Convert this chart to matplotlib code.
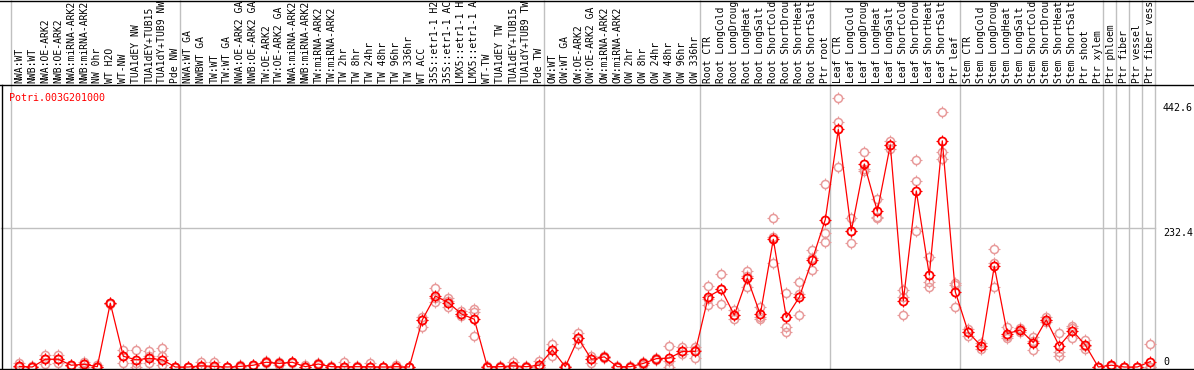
import matplotlib
matplotlib.use('Agg')
import matplotlib.pyplot as plt
from matplotlib.path import Path

# ---------------- data ----------------
gene_id = "Potri.003G201000"

labels = [
    "NWA:WT", "NWB:WT", "NWA:OE-ARK2", "NWB:OE-ARK2", "NWA:miRNA-ARK2", "NWB:miRNA-ARK2",
    "NW 0hr", "WT H2O", "WT-NW", "TUA1dEY NW", "TUA1dEY+TUB15 NW", "TUA1dY+TUB9 NW", "Pde NW",
    "NWA:WT GA", "NWBWT GA", "TW:WT", "TW:WT GA", "NWA:OE-ARK2 GA", "NWB:OE-ARK2 GA",
    "TW:OE-ARK2", "TW:OE-ARK2 GA", "NWA:miRNA-ARK2 GA", "NWB:miRNA-ARK2 GA", "TW:miRNA-ARK2",
    "TW:miRNA-ARK2", "TW 2hr", "TW 8hr", "TW 24hr", "TW 48hr", "TW 96hr", "TW 336hr", "WT ACC",
    "35S::etr1-1 H2O", "35S::etr1-1 ACC", "LMX5::etr1-1 H2O", "LMX5::etr1-1 ACC", "WT-TW",
    "TUA1dEY TW", "TUA1dEY+TUB15 TW", "TUA1dY+TUB9 TW", "Pde TW",
    "OW:WT", "OW:WT GA", "OW:OE-ARK2", "OW:OE-ARK2 GA", "OW:miRNA-ARK2", "OW:miRNA-ARK2",
    "OW 2hr", "OW 8hr", "OW 24hr", "OW 48hr", "OW 96hr", "OW 336hr",
    "Root CTR", "Root LongCold", "Root LongDrought", "Root LongHeat", "Root LongSalt",
    "Root ShortCold", "Root ShortDrought", "Root ShortHeat", "Root ShortSalt", "Ptr root",
    "Leaf CTR", "Leaf LongCold", "Leaf LongDrought", "Leaf LongHeat", "Leaf LongSalt",
    "Leaf ShortCold", "Leaf ShortDrought", "Leaf ShortHeat", "Leaf ShortSalt", "Ptr leaf",
    "Stem CTR", "Stem LongCold", "Stem LongDrought", "Stem LongHeat", "Stem LongSalt",
    "Stem ShortCold", "Stem ShortDrought", "Stem ShortHeat", "Stem ShortSalt", "Ptr shoot",
    "Ptr xylem", "Ptr phloem", "Ptr fiber", "Ptr vessel", "Ptr fiber vessel",
]

means = [
    1, 0, 13, 13, 3, 4.5, 0.5, 107, 18, 12, 14.5, 12, 0,
    0, 2, 1, 0, 1, 3, 8, 6, 8, 0.5, 5, 0.5, 0.5, 0.5, 0.5, 0, 0.5, 0,
    79, 119, 108, 89, 80, 0.5, 0.5, 2, 0.5, 3,
    28.5, 0.5, 48, 13, 17, 0.5, 0.5, 6, 14, 15, 26, 26,
    118, 130, 87, 149, 88, 214, 83, 117, 180, 247,
    398, 228, 340, 261, 372, 111, 295, 154, 379, 126,
    58, 35, 169, 56, 62, 41, 79, 35, 61, 37,
    0, 3, 0, 0, 9,
]

replicates = [
    [1, 6, 0], [0, 2, 0], [20, 13, 4.5], [20, 13, 7], [3, 4, 2], [9, 4.5, 0.5],
    [0.5, 3, 0], [106, 107, 108], [28.5, 18, 6], [28.5, 7, 0], [27, 18, 6], [31, 18, 3],
    [0, 0, 0],
    [0, 0, 0], [9, 1, 0], [9, 0, 0], [0, 0, 0], [4, 0, 0], [3, 4, 2], [8, 10, 6],
    [9, 6, 3], [8, 9, 7], [3, 0, 0], [5, 6, 4], [0.5, 1, 0], [9, 0, 0], [1, 0, 0],
    [6, 0, 0], [0, 0, 0], [3, 0, 0], [0, 0, 0],
    [84, 79, 66.5], [132, 116, 109], [115, 110, 100], [93, 89, 85], [97, 92, 52],
    [0.5, 1, 0], [1, 0, 0], [9, 0, 0], [2, 0, 0], [10, 0, 0],
    [38.5, 28, 19], [0.5, 1, 0], [57.5, 48, 38], [13, 18, 7], [19, 17, 15],
    [0, 1, 0], [0, 1, 0], [9, 6, 3], [14, 15, 12], [35, 10, 0], [34, 26, 22],
    [34, 28, 14.5],
    [136, 114, 104], [155, 130, 105], [95.5, 87, 81], [161, 152, 134.5],
    [101, 83, 81], [249, 218, 175], [123.5, 67.5, 58], [142, 122, 87],
    [196, 182, 162.5], [306, 224, 210],
    [450, 411, 334.6], [249, 228, 207], [359.7, 331, 328], [281.5, 251, 250],
    [379, 372, 365], [129, 117, 87], [347, 312, 228], [185, 143, 134.5],
    [426.7, 359.7, 348], [140, 138, 100],
    [63.7, 58, 52], [39.7, 35, 29.7], [197.7, 175, 134.5], [67.5, 52, 48],
    [65, 62, 59], [50.8, 43, 28.5], [84, 78, 75], [57.5, 25.7, 19],
    [68.7, 66, 48], [45, 36, 30],
    [0, 0, 0], [3, 4, 1], [0, 0, 0], [0, 0, 0], [38, 0, 0],
]

group_starts = [0, 13, 41, 53, 63, 73, 84, 85, 86, 87, 88]
ytick_values = [442.6, 232.4, 0]
ytick_labels = ["442.6", "232.4", "0"]

# ---------------- layout (pixels) ----------------
W, H = 1194, 370
X0, DX = 19.3, 13.0      # pixel x of first sample, pixel step
Y0, SY = 367.0, 0.5968   # pixel y of value 0, pixels per unit
HEADER = 85              # bottom of label band
MAX_CHARS = 14           # label band shows at most 14 characters

def px_x(xp):
    return (xp - X0) / DX

def px_y(yp):
    return (Y0 - yp) / SY

fig = plt.figure(figsize=(W / 100, H / 100), dpi=100)
ax = fig.add_axes([0, 0, 1, 1])
ax.set_axis_off()
ax.set_xlim(px_x(0), px_x(W))
ax.set_ylim(px_y(H), px_y(0))

FONT = dict(family="DejaVu Sans Mono", size=7.2)
LFONT = dict(family="DejaVu Sans Mono", size=7.05)
GRAY = "#c0c0c0"

# group separators (full height)
for g in group_starts:
    ax.plot([g - 0.63, g - 0.63], [px_y(0), px_y(H)], color=GRAY, lw=1.0, zorder=1,
            solid_capstyle="butt")

# horizontal grid at 232.4
ax.plot([px_x(1), group_starts[-1] - 0.63], [ytick_values[1], ytick_values[1]],
        color=GRAY, lw=1.0, zorder=1)

# borders
ax.plot([px_x(0), px_x(W)], [px_y(0.5), px_y(0.5)], color="black", lw=1.0, zorder=5)
ax.plot([px_x(0), px_x(W)], [px_y(HEADER), px_y(HEADER)], color="black", lw=1.0, zorder=5)
ax.plot([px_x(1.5), px_x(1.5)], [px_y(HEADER), px_y(H)], color="black", lw=1.0, zorder=5)
ax.plot([px_x(0), px_x(W)], [px_y(368.5), px_y(368.5)], color="black", lw=1.0, zorder=5)

# sample labels (rotated, shown up to the band's width like the reference)
xtrans = ax.get_xaxis_transform()
for i, lab in enumerate(labels):
    ax.text(i, (H - 83) / H, lab[:MAX_CHARS].rstrip(), rotation=90, ha="center", va="bottom",
            transform=xtrans, color="black", **LFONT)

# gene id
ax.text(px_x(9.3), px_y(97.7), gene_id, ha="left", va="center", color="red", **FONT)

# y value labels at right
for v, t in zip(ytick_values, ytick_labels):
    yc = Y0 - SY * v + 5
    if v == 0:
        yc = 361.7
    ax.text(px_x(1163), px_y(yc), t, ha="left", va="center", color="black", **FONT)

# marker with four small ticks
r1, r2 = 0.72, 1.0
tick_path = Path([(0, r1), (0, r2), (0, -r1), (0, -r2), (r1, 0), (r2, 0), (-r1, 0), (-r2, 0)],
                 [Path.MOVETO, Path.LINETO] * 4)

CIRC_MS = 5.8
TICK_MS = 8.0
REP_COLOR = "#e89a9a"

rx, ry = [], []
for i, reps in enumerate(replicates):
    for r in reps:
        rx.append(i)
        ry.append(r)
ax.plot(rx, ry, ls="none", marker="o", mfc="none", mec=REP_COLOR, ms=CIRC_MS, mew=1.1, zorder=2)
ax.plot(rx, ry, ls="none", marker=tick_path, mec=REP_COLOR, ms=TICK_MS, mew=0.8, zorder=2)

xs = list(range(len(means)))
ax.plot(xs, means, color="red", lw=0.9, zorder=3)
ax.plot(xs, means, ls="none", marker="o", mfc="none", mec="red", ms=CIRC_MS, mew=1.3, zorder=4)
ax.plot(xs, means, ls="none", marker=tick_path, mec="red", ms=TICK_MS, mew=0.8, zorder=4)

fig.savefig("out.png", dpi=100)
